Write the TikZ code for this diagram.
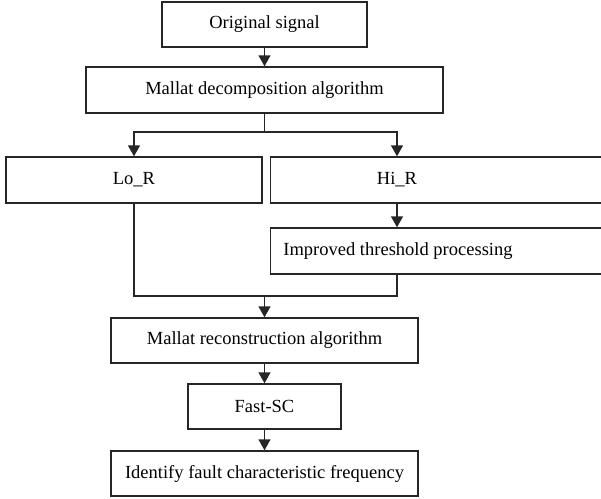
\documentclass[tikz,border=0pt]{standalone}
\usepackage{fontspec}
\setmainfont{Liberation Serif}
\usetikzlibrary{arrows.meta}
\begin{document}
\begin{tikzpicture}[x=1pt,y=-1pt,
  box/.style={draw=black!85, line width=1.4pt, minimum height=46pt, inner sep=0pt, font=\fontsize{18.5}{22}\selectfont},
  txt/.style={inner sep=0pt, font=\fontsize{18.5}{22}\selectfont},
  conn/.style={draw=black!85, line width=1.4pt},
  arr/.style={conn, -{Triangle[width=12pt,length=11pt]}}]
\useasboundingbox (0,0) rectangle (601,498);
\clip (0,0) rectangle (601,498);
\node[box, minimum width=205pt, minimum height=45pt] (orig) at (264.5,24.5) {Original signal};
\node[box, minimum width=357pt] (dec) at (264.5,90) {Mallat decomposition algorithm};
\node[box, minimum width=256pt] (lo) at (134,180) {Lo\_R};
\node[box, minimum width=360pt, anchor=west] (hibox) at (270,180) {};
\node[txt] (hi) at (397,180) {Hi\_R};
\node[box, minimum width=360pt, anchor=west] (thrbox) at (270,251) {};
\node[txt] (thr) at (398,251) {Improved threshold processing};
\node[box, minimum width=307pt, minimum height=45pt] (rec) at (264.5,340.5) {Mallat reconstruction algorithm};
\node[box, minimum width=153pt, minimum height=45pt] (fast) at (264.5,406.5) {Fast-SC};
\node[box, minimum width=307pt, minimum height=45pt] (iden) at (264.5,473.5) {Identify fault characteristic frequency};
\coordinate (split) at (264.5,132);
\coordinate (merge) at (264.5,296);
\draw[arr] (orig) -- (dec);
\draw[conn] (dec) -- (split);
\draw[arr] (split) -| (lo.north);
\draw[arr] (split) -| (hibox.north west -| hi);
\draw[arr] (hibox.south west -| hi) -- (thrbox.north west -| hi);
\draw[conn] (lo.south) |- (merge);
\draw[conn] (thrbox.south west -| hi) |- (merge);
\draw[arr] (merge) -- (rec);
\draw[arr] (rec) -- (fast);
\draw[arr] (fast) -- (iden);
\end{tikzpicture}
\end{document}
